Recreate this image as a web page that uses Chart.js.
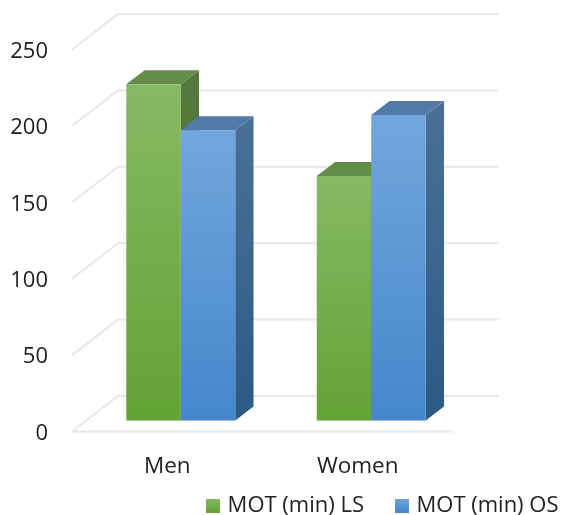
<!DOCTYPE html>
<html>
<head>
<meta charset="utf-8">
<style>
  html, body { margin: 0; padding: 0; background: #fff; }
  #wrap { width: 562px; height: 515px; }
</style>
<script src="https://cdn.jsdelivr.net/npm/chart.js@4/dist/chart.umd.min.js"></script>
</head>
<body>
<div id="wrap"><canvas id="motChart" width="562" height="515"></canvas></div>
<script>
const categories = ["Men", "Women"];
const seriesNames = ["MOT (min) LS", "MOT (min) OS"];
const motLS = [220, 160];
const motOS = [190, 200];
const yTicks = [0, 50, 100, 150, 200, 250];

const FONT = "'Open Sans', sans-serif";
const gridColor = "#e6e8f0";

// front / top / side shades per series
const shades = [
  { hi: "#86b964", lo: "#63a235", topC: "#648c49", sideHi: "#55793c", sideLo: "#3f6e22" },
  { hi: "#72a6dd", lo: "#4487cb", topC: "#527aa8", sideHi: "#496f97", sideLo: "#2b5a86" }
];

// offsets of the 3D box: bars sit forward of the wall, and have their own depth
const barShift = { x: 13.5, y: -11 };
const barDepth = { x: 18.3, y: -14 };
const wallDepth = { x: 46, y: -35.5 };

function frontFill(i) {
  return ctx => {
    if (ctx.dataIndex === undefined || !ctx.chart.chartArea) return shades[i].lo;
    const s = ctx.chart.scales.y;
    const g = ctx.chart.ctx.createLinearGradient(0, s.getPixelForValue(ctx.parsed.y), 0, s.getPixelForValue(0));
    g.addColorStop(0, shades[i].hi);
    g.addColorStop(1, shades[i].lo);
    return g;
  };
}

function swatch(i) {
  const c = document.createElement("canvas");
  c.width = 14;
  c.height = 14;
  const x = c.getContext("2d");
  const g = x.createLinearGradient(0, 0, 0, 14);
  g.addColorStop(0, shades[i].hi);
  g.addColorStop(1, shades[i].lo);
  x.fillStyle = g;
  x.fillRect(0, 0, 14, 14);
  return c;
}

// wall and floor lines behind the bars
const wallGrid = {
  id: "wallGrid",
  beforeDatasetsDraw(chart) {
    const { ctx, chartArea: a, scales: { y } } = chart;
    ctx.save();
    ctx.strokeStyle = gridColor;
    ctx.lineWidth = 2;
    ctx.beginPath();
    yTicks.forEach(v => {
      const py = y.getPixelForValue(v);
      ctx.moveTo(a.left, py);
      ctx.lineTo(a.left + wallDepth.x, py + wallDepth.y);
      ctx.lineTo(a.right + wallDepth.x, py + wallDepth.y);
    });
    const py0 = y.getPixelForValue(0);
    ctx.moveTo(a.left, py0);
    ctx.lineTo(a.right, py0);
    ctx.stroke();
    ctx.restore();
  }
};

// side and top faces go under all the front faces; series are walked left to right
const barBoxes = {
  id: "barBoxes",
  beforeDatasetsDraw(chart) {
    const { ctx } = chart;
    ctx.save();
    ctx.translate(barShift.x, barShift.y);
    chart.data.datasets.forEach((ds, di) => {
      const sh = shades[di];
      chart.getDatasetMeta(di).data.forEach(bar => {
        const left = bar.x - bar.width / 2;
        const right = bar.x + bar.width / 2;
        const dx = barDepth.x, dy = barDepth.y;
        const g = ctx.createLinearGradient(0, bar.y, 0, bar.base);
        g.addColorStop(0, sh.sideHi);
        g.addColorStop(1, sh.sideLo);
        ctx.fillStyle = g;
        ctx.beginPath();
        ctx.moveTo(right, bar.y);
        ctx.lineTo(right + dx, bar.y + dy);
        ctx.lineTo(right + dx, bar.base + dy);
        ctx.lineTo(right, bar.base);
        ctx.closePath();
        ctx.fill();
        ctx.fillStyle = sh.topC;
        ctx.beginPath();
        ctx.moveTo(left, bar.y);
        ctx.lineTo(left + dx, bar.y + dy);
        ctx.lineTo(right + dx, bar.y + dy);
        ctx.lineTo(right, bar.y);
        ctx.closePath();
        ctx.fill();
      });
    });
    // left on the stack so the library's bars get the same shift
  },
  afterDatasetsDraw(chart) {
    chart.ctx.restore();
  }
};

// the wide item gap makes the legend box tall, so pull it up over the axis labels
const legendPlace = {
  id: "legendPlace",
  afterLayout(chart) {
    const l = chart.legend;
    l.top = 460;
    l.bottom = 563;
    l.right = 562 + 31;
  }
};

new Chart(document.getElementById("motChart"), {
  type: "bar",
  data: {
    labels: categories,
    datasets: [
      { label: seriesNames[0], data: motLS, backgroundColor: frontFill(0), clip: false },
      { label: seriesNames[1], data: motOS, backgroundColor: frontFill(1), clip: false }
    ]
  },
  options: {
    responsive: false,
    animation: false,
    categoryPercentage: 0.572,
    barPercentage: 1,
    layout: { padding: { top: 49.5, bottom: -48 } },
    scales: {
      x: {
        grid: { display: false },
        border: { display: false },
        ticks: { color: "#222", font: { family: FONT, size: 22.5 }, padding: 14 },
        afterFit(s) { s.height = 65; }
      },
      y: {
        min: 0,
        max: 250,
        afterBuildTicks(s) { s.ticks = yTicks.map(value => ({ value })); },
        grid: { display: false },
        border: { display: false },
        ticks: { color: "#222", font: { family: FONT, size: 22 }, padding: 16, labelOffset: 2 },
        afterFit(s) { s.width = 72; }
      },
      spare: {
        position: "right",
        grid: { display: false },
        border: { display: false },
        ticks: { display: false },
        afterFit(s) { s.width = 109; }
      }
    },
    plugins: {
      tooltip: { enabled: false },
      legend: {
        position: "bottom",
        align: "end",
        labels: {
          color: "#222",
          font: { family: FONT, size: 22 },
          padding: 34.5,
          usePointStyle: true,
          pointStyleWidth: 7,
          boxHeight: 14,
          generateLabels(chart) {
            return Chart.defaults.plugins.legend.labels.generateLabels(chart)
              .map(it => ({ ...it, pointStyle: swatch(it.datasetIndex) }));
          }
        }
      }
    }
  },
  plugins: [wallGrid, barBoxes, legendPlace]
});
</script>
</body>
</html>
